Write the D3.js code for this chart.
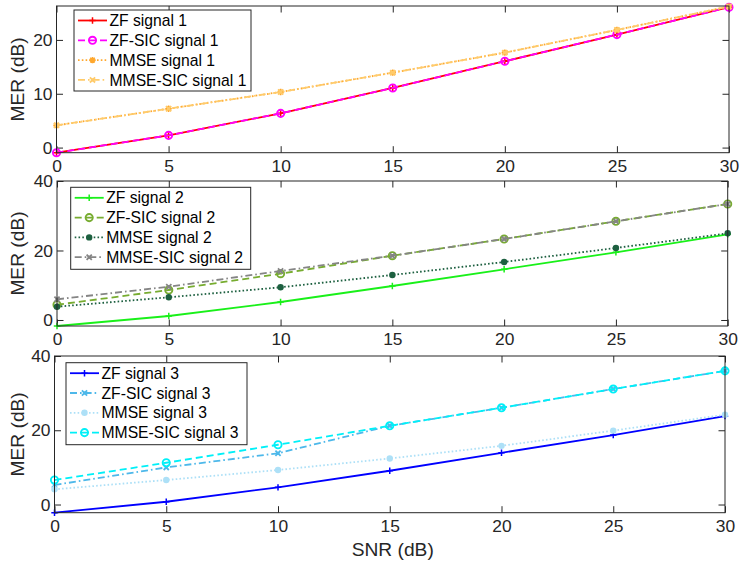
<!DOCTYPE html>
<html>
<head>
<meta charset="utf-8">
<script src="https://cdn.jsdelivr.net/npm/d3@7/dist/d3.min.js"></script>
<style>
  html, body { margin: 0; padding: 0; background: #fff; }
  svg { display: block; font-family: "Liberation Sans", Arial, Helvetica, sans-serif; }
</style>
</head>
<body>
<svg id="chart" width="742" height="564"></svg>
<script>
// SNR sweep shared by every subplot
const snr = [0, 5, 10, 15, 20, 25, 30];
const xTicks = [0, 5, 10, 15, 20, 25, 30];

// Signal 1 MER (dB)
const zf1      = [-0.95, 2.27, 6.36, 11.07, 16.04, 20.99, 26.08];
const zfSic1   = [-0.95, 2.27, 6.36, 11.07, 16.04, 20.99, 26.08];
const mmse1    = [4.13, 7.22, 10.33, 13.92, 17.64, 21.86, 26.2];
const mmseSic1 = [4.13, 7.22, 10.33, 13.92, 17.64, 21.86, 26.2];

// Signal 2 MER (dB)
const zf2      = [-1.73, 1.15, 5.18, 9.78, 14.59, 19.48, 24.66];
const zfSic2   = [4.4, 8.63, 13.32, 18.5, 23.3, 28.4, 33.4];
const mmse2    = [3.83, 6.53, 9.41, 12.95, 16.69, 20.72, 24.95];
const mmseSic2 = [5.96, 9.58, 14.1, 18.5, 23.3, 28.4, 33.4];

// Signal 3 MER (dB)
const zf3      = [-2.2, 0.75, 4.63, 9.1, 13.94, 18.7, 23.8];
const zfSic3   = [5.25, 10.0, 13.8, 21.2, 26.06, 31.1, 36.0];
const mmse3    = [4.1, 6.6, 9.3, 12.4, 15.8, 19.9, 24.2];
const mmseSic3 = [6.6, 11.25, 16.1, 21.2, 26.06, 31.1, 36.0];

// Y axis ticks and limits per subplot
const yTicks1 = [0, 10, 20];
const yTicks2 = [0, 20, 40];
const yTicks3 = [0, 20, 40];
const yLim1 = [-0.95, 26.3];
const yLim2 = [-1.73, 40];
const yLim3 = [-2.2, 40];

const labels1 = ["ZF signal 1", "ZF-SIC signal 1", "MMSE signal 1", "MMSE-SIC signal 1"];
const labels2 = ["ZF signal 2", "ZF-SIC signal 2", "MMSE signal 2", "MMSE-SIC signal 2"];
const labels3 = ["ZF signal 3", "ZF-SIC signal 3", "MMSE signal 3", "MMSE-SIC signal 3"];

// Line styles
const DASH = { solid: null, dashed: "7,4", dotted: "1.6,2.2", dashdot: "7,3,1.6,3" };

const panels = [
  {
    box: { left: 56.5, right: 729, top: 6, bottom: 152.7 },
    yLim: yLim1, yTicks: yTicks1,
    legend: { x: 74, y: 10, w: 177, h: 81 },
    series: [
      { label: labels1[0], values: zf1,      color: "#ff0000", dash: "solid",   marker: "plus" },
      { label: labels1[1], values: zfSic1,   color: "#ff00ff", dash: "dashed",  marker: "circle" },
      { label: labels1[2], values: mmse1,    color: "#ffa82e", dash: "dotted",  marker: "star" },
      { label: labels1[3], values: mmseSic1, color: "#ffcb6b", dash: "dashdot", marker: "cross" }
    ]
  },
  {
    box: { left: 57, right: 727.7, top: 181, bottom: 326 },
    yLim: yLim2, yTicks: yTicks2,
    legend: { x: 70.7, y: 187.3, w: 180, h: 82 },
    series: [
      { label: labels2[0], values: zf2,      color: "#19f019", dash: "solid",   marker: "plus" },
      { label: labels2[1], values: zfSic2,   color: "#77ac30", dash: "dashed",  marker: "circle" },
      { label: labels2[2], values: mmse2,    color: "#1d6040", dash: "dotted",  marker: "dot" },
      { label: labels2[3], values: mmseSic2, color: "#858585", dash: "dashdot", marker: "cross" }
    ]
  },
  {
    box: { left: 54.5, right: 725, top: 356, bottom: 512.7 },
    yLim: yLim3, yTicks: yTicks3,
    legend: { x: 66, y: 362.7, w: 181, h: 82 },
    series: [
      { label: labels3[0], values: zf3,      color: "#0000ff", dash: "solid",   marker: "plus" },
      { label: labels3[1], values: zfSic3,   color: "#4db8ea", dash: "dashdot", marker: "cross" },
      { label: labels3[2], values: mmse3,    color: "#ade0f7", dash: "dotted",  marker: "dot" },
      { label: labels3[3], values: mmseSic3, color: "#00f0f8", dash: "dashed",  marker: "circle" }
    ]
  }
];

const AXIS = "#262626";
const TICK_FONT = 17.4, LEGEND_FONT = 15.7, LABEL_FONT = 19.2, TICK_LEN = 6.5;

const svg = d3.select("#chart");

function drawMarker(g, kind, cx, cy, color) {
  const s = 3.2;
  if (kind === "plus") {
    g.append("path").attr("d", `M${cx - s},${cy}H${cx + s}M${cx},${cy - s}V${cy + s}`)
      .attr("stroke", color).attr("stroke-width", 1.5).attr("fill", "none");
  } else if (kind === "circle") {
    g.append("circle").attr("cx", cx).attr("cy", cy).attr("r", 3.6)
      .attr("stroke", color).attr("stroke-width", 1.9).attr("fill", "none");
  } else if (kind === "dot") {
    g.append("circle").attr("cx", cx).attr("cy", cy).attr("r", 3.2).attr("fill", color);
  } else if (kind === "star") {
    g.append("path").attr("d", `M${cx - s},${cy}H${cx + s}M${cx},${cy - s}V${cy + s}M${cx - s * 0.72},${cy - s * 0.72}L${cx + s * 0.72},${cy + s * 0.72}M${cx - s * 0.72},${cy + s * 0.72}L${cx + s * 0.72},${cy - s * 0.72}`)
      .attr("stroke", color).attr("stroke-width", 1.6).attr("fill", "none");
    g.append("circle").attr("cx", cx).attr("cy", cy).attr("r", 1.8).attr("fill", color);
  } else if (kind === "cross") {
    const t = 2.6;
    g.append("path").attr("d", `M${cx - t},${cy - t}L${cx + t},${cy + t}M${cx - t},${cy + t}L${cx + t},${cy - t}`)
      .attr("stroke", color).attr("stroke-width", 1.8).attr("fill", "none");
    g.append("rect").attr("x", cx - 1.5).attr("y", cy - 1.5).attr("width", 3).attr("height", 3).attr("fill", color);
  }
}

panels.forEach((p, i) => {
  const b = p.box;
  const x = d3.scaleLinear().domain([0, 30]).range([b.left, b.right]);
  const y = d3.scaleLinear().domain(p.yLim).range([b.bottom, b.top]);
  const g = svg.append("g");

  // white plotting area
  g.append("rect").attr("x", b.left).attr("y", b.top)
    .attr("width", b.right - b.left).attr("height", b.bottom - b.top).attr("fill", "#fff");

  // bottom axis with labels, top axis mirrored (ticks only)
  const xAxisB = d3.axisBottom(x).tickValues(xTicks).tickSizeInner(-TICK_LEN).tickSizeOuter(0).tickPadding(13);
  const gxb = g.append("g").attr("transform", `translate(0,${b.bottom})`).call(xAxisB);
  const xAxisT = d3.axisTop(x).tickValues(xTicks).tickSizeInner(-TICK_LEN).tickSizeOuter(0).tickFormat("");
  const gxt = g.append("g").attr("transform", `translate(0,${b.top})`).call(xAxisT);

  const yAxisL = d3.axisLeft(y).tickValues(p.yTicks).tickSizeInner(-TICK_LEN).tickSizeOuter(0).tickPadding(4);
  const gyl = g.append("g").attr("transform", `translate(${b.left},0)`).call(yAxisL);
  const yAxisR = d3.axisRight(y).tickValues(p.yTicks).tickSizeInner(-TICK_LEN).tickSizeOuter(0).tickFormat("");
  const gyr = g.append("g").attr("transform", `translate(${b.right},0)`).call(yAxisR);

  [gxb, gxt, gyl, gyr].forEach(a => {
    a.select(".domain").remove();
    a.selectAll(".tick line").attr("stroke", AXIS).attr("stroke-width", 1);
    a.selectAll(".tick text").attr("fill", AXIS).attr("font-size", TICK_FONT)
      .attr("font-family", "Liberation Sans, Arial, sans-serif");
  });
  gxb.selectAll(".tick text").attr("dy", "0.36em");

  // data lines and markers, clipped to the axes box
  const clipId = "clip" + i;
  svg.append("clipPath").attr("id", clipId).append("rect")
    .attr("x", b.left - 6).attr("y", b.top - 6)
    .attr("width", b.right - b.left + 12).attr("height", b.bottom - b.top + 12);
  const plot = g.append("g").attr("clip-path", `url(#${clipId})`);
  const line = d3.line().x((d, k) => x(snr[k])).y(d => y(d));
  p.series.forEach(s => {
    plot.append("path").datum(s.values)
      .attr("d", line).attr("fill", "none")
      .attr("stroke", s.color).attr("stroke-width", 1.8)
      .attr("stroke-dasharray", DASH[s.dash]);
    s.values.forEach((v, k) => drawMarker(plot, s.marker, x(snr[k]), y(v), s.color));
  });

  // axes box
  g.append("rect").attr("x", b.left).attr("y", b.top)
    .attr("width", b.right - b.left).attr("height", b.bottom - b.top)
    .attr("fill", "none").attr("stroke", AXIS).attr("stroke-width", 1);

  // y label
  g.append("text")
    .attr("transform", `translate(24,${(b.top + b.bottom) / 2}) rotate(-90)`)
    .attr("text-anchor", "middle").attr("fill", AXIS).attr("font-size", LABEL_FONT)
    .text("MER (dB)");

  // legend
  const L = p.legend;
  const lg = g.append("g");
  lg.append("rect").attr("x", L.x).attr("y", L.y).attr("width", L.w).attr("height", L.h)
    .attr("fill", "#fff").attr("stroke", AXIS).attr("stroke-width", 1);
  p.series.forEach((s, k) => {
    const cy = L.y + 10.5 + k * 19.8;
    lg.append("line").attr("x1", L.x + 4).attr("x2", L.x + 33).attr("y1", cy).attr("y2", cy)
      .attr("stroke", s.color).attr("stroke-width", 1.8).attr("stroke-dasharray", DASH[s.dash]);
    drawMarker(lg, s.marker, L.x + 18.5, cy, s.color);
    lg.append("text").attr("x", L.x + 35.5).attr("y", cy).attr("dy", "0.36em")
      .attr("font-size", LEGEND_FONT).attr("fill", "#000").text(s.label);
  });
});

// x label under the last subplot
const last = panels[panels.length - 1].box;
svg.append("text")
  .attr("x", (last.left + last.right) / 2 + 3).attr("y", 556)
  .attr("text-anchor", "middle").attr("fill", AXIS).attr("font-size", LABEL_FONT)
  .text("SNR (dB)");
</script>
</body>
</html>
